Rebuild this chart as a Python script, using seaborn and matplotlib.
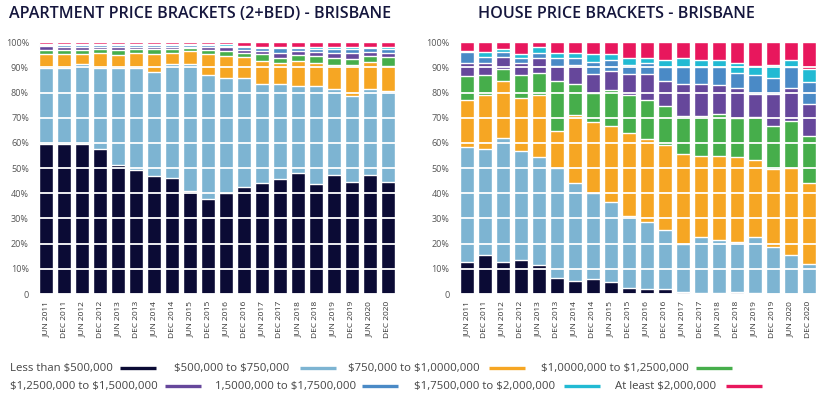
import numpy as np
import pandas as pd
import matplotlib
matplotlib.use("Agg")
import matplotlib.pyplot as plt
from matplotlib.lines import Line2D
import seaborn as sns

# ==========================================
# DATA (share of sales, %)
# ==========================================

periods = []
for yr in range(2011, 2021):
    periods += [f"JUN {yr}", f"DEC {yr}"]

brackets = [
    "Less than $500,000",
    "$500,000 to $750,000",
    "$750,000 to $1,0000,000",
    "$1,0000,000 to $1,2500,000",
    "$1,2500,000 to $1,5000,000",
    "1,5000,000 to $1,7500,000",
    "$1,7500,000 to $2,000,000",
    "At least $2,000,000",
]

colors = ["#0b0b35", "#7db4d2", "#f6a623", "#46ae4b",
          "#66479b", "#4a8ac6", "#22bad3", "#e8175d"]

# apartments (2+ bed)
apt_u500 = [59.5, 59.5, 59.5, 57.5, 51.3, 49.3, 47.0, 46.2, 41.0, 37.9,
            40.3, 42.6, 44.1, 45.8, 48.2, 43.8, 47.4, 44.6, 47.4, 44.6]
apt_500_750 = [30.1, 30.1, 32.0, 32.1, 38.3, 40.3, 41.3, 45.0, 50.2, 49.2,
               45.4, 43.1, 39.4, 37.7, 34.5, 38.9, 33.9, 34.1, 33.9, 36.2]
apt_750_1000 = [5.9, 5.9, 4.0, 6.3, 5.5, 6.3, 7.2, 4.7, 5.3, 8.4,
                9.0, 8.6, 9.2, 8.4, 10.0, 9.2, 9.8, 12.4, 11.0, 9.9]
apt_1000_1250 = [1.4, 1.4, 1.4, 1.4, 1.8, 1.4, 1.8, 1.4, 1.2, 1.4,
                 1.8, 1.6, 2.6, 2.0, 2.1, 2.5, 2.8, 2.4, 2.2, 3.6]
apt_1250_1500 = [1.5, 1.4, 1.4, 1.0, 1.4, 1.0, 0.7, 0.7, 0.6, 1.1,
                 1.6, 1.1, 1.4, 2.0, 1.6, 1.6, 2.0, 2.1, 1.8, 1.6]
apt_1500_1750 = [0.6, 0.7, 0.7, 0.7, 0.7, 0.6, 0.9, 0.9, 0.7, 0.9,
                 0.6, 1.0, 0.9, 1.7, 1.2, 1.5, 1.4, 1.6, 1.3, 1.6]
apt_1750_2000 = [0.3, 0.5, 0.3, 0.3, 0.3, 0.4, 0.4, 0.4, 0.3, 0.4,
                 0.5, 0.5, 0.7, 0.7, 0.7, 0.8, 0.8, 1.1, 0.7, 0.8]
apt_2000_plus = [0.7, 0.5, 0.7, 0.7, 0.7, 0.7, 0.7, 0.7, 0.7, 0.7,
                 0.8, 1.5, 1.7, 1.7, 1.7, 1.7, 1.9, 1.7, 1.7, 1.7]

# houses
house_u500 = [12.7, 15.5, 12.7, 13.5, 11.5, 6.4, 5.2, 6.0, 4.8, 2.4,
              2.0, 2.0, 0.8, 0.4, 0.4, 0.8, 0.4, 0.0, 0.0, 0.0]
house_500_750 = [45.6, 42.1, 49.2, 43.4, 43.0, 43.6, 39.0, 34.3, 31.9, 28.7,
                 26.6, 23.4, 18.9, 22.1, 21.1, 20.0, 22.1, 18.8, 15.5, 11.9]
house_750_1000 = [18.6, 21.3, 22.6, 20.8, 24.4, 14.9, 27.1, 28.0, 30.2, 33.0,
                  32.9, 33.9, 35.9, 32.3, 33.3, 33.6, 30.7, 30.7, 34.5, 32.3]
house_1000_1250 = [9.8, 8.2, 5.0, 9.4, 9.0, 19.8, 12.3, 11.6, 14.0, 14.8,
                   15.7, 15.2, 15.3, 16.1, 16.8, 15.6, 17.3, 17.4, 18.7, 18.7]
house_1250_1500 = [4.9, 4.8, 4.8, 4.8, 6.0, 5.8, 7.2, 7.7, 7.8, 8.4,
                   10.4, 10.2, 12.4, 12.4, 11.3, 12.0, 9.1, 12.7, 13.3, 12.4]
house_1500_1750 = [4.7, 2.1, 1.8, 1.7, 1.7, 3.4, 3.1, 4.7, 4.2, 3.8,
                   4.0, 5.3, 7.0, 6.7, 7.1, 5.9, 7.3, 6.4, 8.0, 9.1]
house_1750_2000 = [0.4, 2.3, 1.4, 1.7, 2.7, 2.0, 2.0, 3.0, 2.4, 2.8,
                   2.3, 2.9, 3.3, 2.9, 2.9, 3.7, 3.6, 5.1, 2.9, 4.8]
house_2000_plus = [3.3, 3.7, 2.5, 4.7, 1.7, 4.1, 4.1, 4.7, 4.7, 6.1,
                   6.1, 7.1, 6.4, 7.1, 7.1, 8.4, 9.5, 8.9, 7.1, 10.8]

apartments = pd.DataFrame(
    np.column_stack([apt_u500, apt_500_750, apt_750_1000, apt_1000_1250,
                     apt_1250_1500, apt_1500_1750, apt_1750_2000, apt_2000_plus]),
    columns=brackets, index=periods
)
houses = pd.DataFrame(
    np.column_stack([house_u500, house_500_750, house_750_1000, house_1000_1250,
                     house_1250_1500, house_1500_1750, house_1750_2000, house_2000_plus]),
    columns=brackets, index=periods
)

# ==========================================
# STYLE
# ==========================================

sns.set_style("white")
plt.rcParams["font.family"] = ["Open Sans", "DejaVu Sans"]

navy = "#15163d"
grey = "#555555"

fig = plt.figure(figsize=(8.28, 3.98), dpi=100)

ax_apt = fig.add_axes([0.045, 0.2613, 0.4343, 0.6324])
ax_house = fig.add_axes([0.5531, 0.2613, 0.4343, 0.6324])


def stacked(ax, df):
    cum = df.cumsum(axis=1)
    # draw from the top bracket down so lower brackets sit on top
    for col, c in zip(reversed(brackets), reversed(colors)):
        sns.barplot(
            x=cum.index,
            y=cum[col].values,
            color=c,
            width=0.78,
            saturation=1,
            ax=ax
        )
    ax.set_xlim(-0.5, len(periods) - 0.5)
    ax.set_ylim(0, 100)
    ax.set_yticks(range(0, 101, 10))
    ax.set_yticklabels(["0"] + [f"{v}%" for v in range(10, 101, 10)])
    ax.set_xticks(range(len(periods)))
    ax.set_xticklabels(periods, rotation=90)
    ax.tick_params(axis="y", labelsize=6.5, colors=grey, length=0, pad=6)
    ax.tick_params(axis="x", labelsize=6, colors="#333333", length=0, pad=5)
    ax.set_xlabel("")
    ax.set_ylabel("")
    ax.grid(axis="y", color="white", linewidth=1.3)
    ax.set_axisbelow(False)
    sns.despine(ax=ax, left=True, bottom=True)


stacked(ax_apt, apartments)
stacked(ax_house, houses)

fig.text(0.242, 0.965, "APARTMENT PRICE BRACKETS (2+BED) - BRISBANE",
         ha="center", va="center", fontsize=11.6, fontweight="semibold", color=navy)
fig.text(0.745, 0.965, "HOUSE PRICE BRACKETS - BRISBANE",
         ha="center", va="center", fontsize=11.6, fontweight="semibold", color=navy)

# ==========================================
# LEGEND (label then swatch)
# ==========================================

W, H = 828.0, 398.0
legend_pos = [
    (10, 368, 120), (174, 368, 300), (348, 368, 489), (541, 368, 696),
    (10, 386, 165), (215, 386, 362), (414, 386, 564), (615, 386, 726),
]

for name, c, (tx, ty, sx) in zip(brackets, colors, legend_pos):
    fig.text(tx / W, 1 - ty / H, name, ha="left", va="center",
             fontsize=8.2, color="#444444", parse_math=False)
    fig.add_artist(Line2D([sx / W, (sx + 36) / W], [1 - ty / H, 1 - ty / H],
                          color=c, linewidth=2.4, solid_capstyle="butt"))

fig.savefig("out.png", dpi=100)
